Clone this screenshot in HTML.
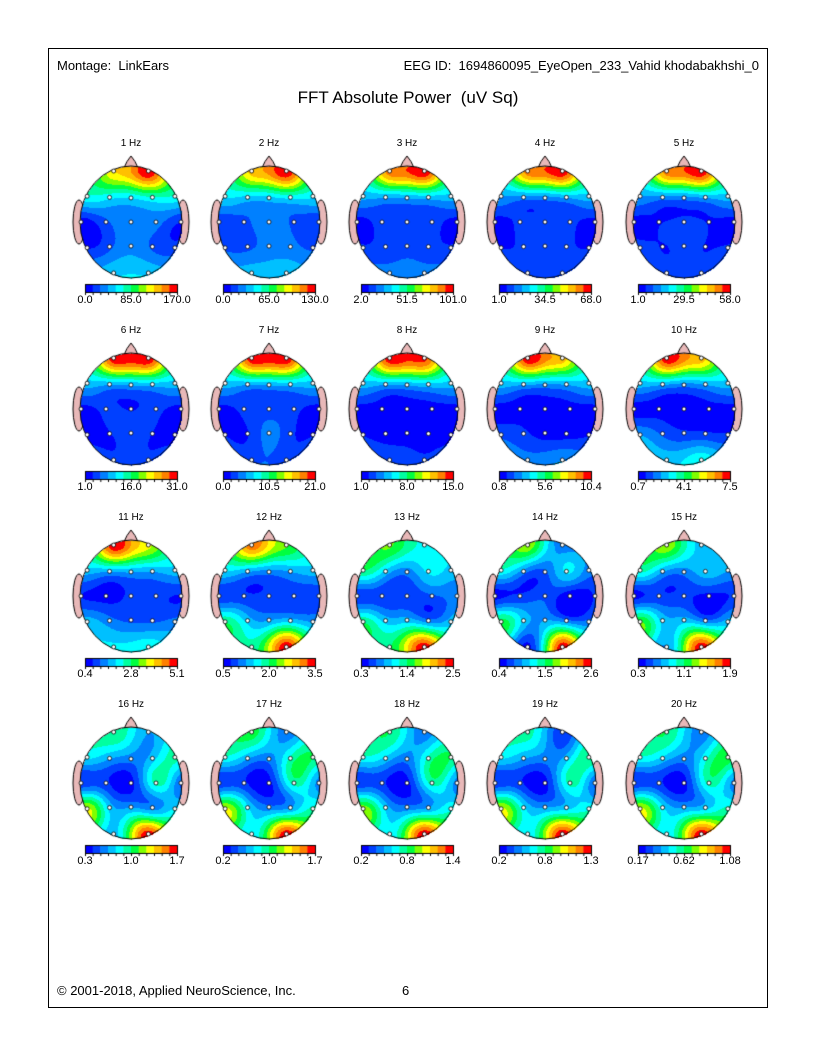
<!DOCTYPE html>
<html><head><meta charset="utf-8">
<style>
body{margin:0;background:#fff;font-family:"Liberation Sans",Arial,sans-serif;}
#page{position:relative;width:816px;height:1056px;overflow:hidden;}
#frame{position:absolute;left:48px;top:48px;width:718px;height:958px;border:1px solid #000;}
.t{position:absolute;color:#000;white-space:pre;}
canvas{position:absolute;left:0;top:0;}
</style></head><body>
<div id="page">
<div id="frame"></div>
<div class="t" style="left:57px;top:58px;font-size:13px;">Montage:  LinkEars</div>
<div class="t" style="right:57px;top:58px;font-size:13px;">EEG ID:  1694860095_EyeOpen_233_Vahid khodabakhshi_0</div>
<div class="t" style="left:0;width:816px;text-align:center;top:88px;font-size:17px;">FFT Absolute Power  (uV Sq)</div>
<div class="t" style="left:57px;top:983px;font-size:13px;">© 2001-2018, Applied NeuroScience, Inc.</div>
<div class="t" style="left:402px;top:983px;font-size:13px;">6</div>
<canvas id="cv" width="816" height="1056"></canvas>
</div>
<script>
const freqLabels=["1 Hz","2 Hz","3 Hz","4 Hz","5 Hz","6 Hz","7 Hz","8 Hz","9 Hz","10 Hz","11 Hz","12 Hz","13 Hz","14 Hz","15 Hz","16 Hz","17 Hz","18 Hz","19 Hz","20 Hz"];
const scaleMin=["0.0","0.0","2.0","1.0","1.0","1.0","0.0","1.0","0.8","0.7","0.4","0.5","0.3","0.4","0.3","0.3","0.2","0.2","0.2","0.17"];
const scaleMid=["85.0","65.0","51.5","34.5","29.5","16.0","10.5","8.0","5.6","4.1","2.8","2.0","1.4","1.5","1.1","1.0","1.0","0.8","0.8","0.62"];
const scaleMax=["170.0","130.0","101.0","68.0","58.0","31.0","21.0","15.0","10.4","7.5","5.1","3.5","2.5","2.6","1.9","1.7","1.7","1.4","1.3","1.08"];
const electrodes=["Fp1","Fp2","F7","F3","Fz","F4","F8","T3","C3","Cz","C4","T4","T5","P3","Pz","P4","T6","O1","O2"];
// normalized power (0..1 of scale) per electrode, order as electrodes
const v1=[.75,1,.4,.35,.33,.4,.4,.03,.15,.22,.2,.08,.08,.15,.22,.15,.12,.32,.32];
const v2=[.8,1,.35,.3,.3,.35,.35,.1,.15,.2,.15,.1,.15,.15,.2,.2,.15,.3,.3];
const v3=[.9,1,.28,.25,.25,.28,.3,.05,.12,.15,.12,.05,.1,.12,.15,.12,.1,.2,.2];
const v4=[.9,1,.25,.2,.2,.25,.3,.05,.1,.12,.1,.05,.08,.1,.12,.1,.08,.15,.15];
const v5=[.9,1,.25,.2,.2,.25,.3,.05,.08,.1,.08,.05,.12,.08,.1,.08,.1,.12,.12];
const v6=[1,1,.3,.25,.25,.28,.3,.05,.1,.08,.1,.05,.05,.08,.1,.08,.05,.1,.1];
const v7=[1,1,.3,.25,.25,.28,.3,.05,.1,.12,.1,.05,.08,.08,.2,.1,.08,.15,.12];
const v8=[1,.95,.3,.25,.25,.3,.3,.05,.05,.05,.05,.05,.08,.05,.05,.05,.05,.15,.1];
const v9=[1,.8,.3,.25,.22,.25,.3,.05,.05,.05,.05,.05,.15,.1,.05,.05,.08,.2,.25];
const v10=[1,.8,.3,.25,.2,.25,.3,.05,.05,.05,.05,.05,.25,.15,.1,.1,.1,.3,.4];
const v11=[1,.7,.3,.25,.25,.25,.3,.08,.05,.1,.1,.08,.3,.2,.15,.15,.2,.35,.4];
const v12=[.9,.6,.35,.25,.2,.25,.3,.1,.1,.1,.1,.1,.5,.3,.25,.3,.25,.45,1];
const v13=[.6,.4,.5,.3,.2,.35,.3,.1,.1,.1,.15,.2,.5,.3,.3,.2,.3,.5,1];
const v14=[.65,.2,.4,.2,.15,.35,.2,.05,.1,.15,0,.1,.55,.3,.25,.2,.2,.05,1];
const v15=[.65,.3,.45,.25,.2,.3,.25,.05,.1,.1,.05,.1,.6,.3,.3,.2,.3,.25,1];
const v16=[.5,.25,.35,.25,.2,.3,.45,.1,.1,.05,.45,.15,.7,.3,.25,.2,.35,.3,1];
const v17=[.55,.2,.4,.25,.2,.45,.5,.1,.1,.05,.45,.2,.7,.35,.2,.25,.45,.35,1];
const v18=[.5,.2,.4,.3,.2,.45,.5,.1,.1,.05,.45,.2,.65,.3,.2,.25,.4,.35,1];
const v19=[.45,.1,.35,.25,.2,.3,.5,.1,.1,.05,.45,.15,.7,.35,.25,.3,.4,.35,1];
const v20=[.5,.2,.4,.3,.2,.4,.55,.1,.1,.05,.45,.2,.7,.35,.25,.3,.45,.35,1];
const maps=[v1,v2,v3,v4,v5,v6,v7,v8,v9,v10,v11,v12,v13,v14,v15,v16,v17,v18,v19,v20];

const palette=["#0000ff","#0040ff","#0080ff","#00c0ff","#00ffff","#00ffa0","#00ff40","#80ff00","#ffff00","#ffc000","#ff8000","#ff0000"];
const pos={Fp1:[-.34,-.91],Fp2:[.34,-.91],F7:[-.86,-.46],F3:[-.42,-.44],Fz:[0,-.43],F4:[.42,-.44],F8:[.86,-.46],T3:[-.98,0],C3:[-.49,0],Cz:[0,0],C4:[.49,0],T4:[.98,0],T5:[-.86,.46],P3:[-.42,.44],Pz:[0,.43],P4:[.42,.44],T6:[.86,.46],O1:[-.34,.91],O2:[.34,.91]};
const cv=document.getElementById('cv');const ctx=cv.getContext('2d');
const colX=[131,269,407,545,684],rowY=[222,409,596,783];
const RX=51,RY=56,S=0.18;
function hex(c){return [parseInt(c.substr(1,2),16),parseInt(c.substr(3,2),16),parseInt(c.substr(5,2),16)];}
const pal=palette.map(hex);
const P=electrodes.map(e=>pos[e]);
function kern(d2){return Math.exp(-d2/S);}
function solve(A,b){const n=b.length;A=A.map(r=>r.slice());b=b.slice();
  for(let i=0;i<n;i++){let p=i;for(let r=i+1;r<n;r++)if(Math.abs(A[r][i])>Math.abs(A[p][i]))p=r;
    [A[i],A[p]]=[A[p],A[i]];[b[i],b[p]]=[b[p],b[i]];
    for(let r=i+1;r<n;r++){const f=A[r][i]/A[i][i];for(let c=i;c<n;c++)A[r][c]-=f*A[i][c];b[r]-=f*b[i];}}
  const x=new Array(n).fill(0);for(let i=n-1;i>=0;i--){let s=b[i];for(let c=i+1;c<n;c++)s-=A[i][c]*x[c];x[i]=s/A[i][i];}return x;}
const K=P.map(a=>P.map(b=>kern((a[0]-b[0])**2+(a[1]-b[1])**2)+(a===b?0.02:0)));
const pageEl=document.getElementById('page');
function label(txt,x,y,size,name){
  const d=document.createElement('div');d.className='t';d.textContent=txt;
  
  
  d.style.fontSize=size+'px';d.style.top=y+'px';
  d.style.left=(x-40)+'px';d.style.width='80px';d.style.textAlign='center';
  pageEl.appendChild(d);
}
maps.forEach((vals,i)=>{
  const cx=colX[i%5],cy=rowY[Math.floor(i/5)];
  ctx.fillStyle='#e8b8b8';ctx.strokeStyle='#000';ctx.lineWidth=1;
  for(const s of [-1,1]){ctx.beginPath();ctx.ellipse(cx+s*(RX+1),cy,6,22,0,0,Math.PI*2);ctx.fill();ctx.stroke();}
  ctx.beginPath();ctx.moveTo(cx-8,cy-RY+4);ctx.quadraticCurveTo(cx-4,cy-RY-6,cx,cy-RY-10);ctx.quadraticCurveTo(cx+4,cy-RY-6,cx+8,cy-RY+4);ctx.closePath();ctx.fill();ctx.stroke();
  const mean=vals.reduce((a,b)=>a+b,0)/vals.length;
  const w=solve(K,vals.map(v=>v-mean));
  const img=ctx.getImageData(cx-RX,cy-RY,2*RX+1,2*RY+1);
  for(let py=0;py<=2*RY;py++)for(let px=0;px<=2*RX;px++){
    const nx=(px-RX)/RX,ny=(py-RY)/RY;if(nx*nx+ny*ny>1)continue;
    let v=mean;
    for(let k=0;k<P.length;k++){const dx=nx-P[k][0],dy=ny-P[k][1];v+=w[k]*kern(dx*dx+dy*dy);}
    const idx=Math.min(11,Math.max(0,Math.floor(v*11.99)));
    const c=pal[idx];const o=(py*(2*RX+1)+px)*4;
    img.data[o]=c[0];img.data[o+1]=c[1];img.data[o+2]=c[2];img.data[o+3]=255;
  }
  ctx.putImageData(img,cx-RX,cy-RY);
  ctx.beginPath();ctx.ellipse(cx,cy,RX,RY,0,0,Math.PI*2);ctx.strokeStyle='#000';ctx.stroke();
  electrodes.forEach(e=>{ctx.beginPath();ctx.arc(cx+pos[e][0]*RX,cy+pos[e][1]*RY,2,0,Math.PI*2);ctx.fillStyle='#fff';ctx.fill();ctx.strokeStyle='#000';ctx.lineWidth=0.8;ctx.stroke();});
  ctx.lineWidth=1;
  const bx=cx-46,by=cy+62,bw=92,bh=8;
  palette.forEach((c,k)=>{ctx.fillStyle=c;ctx.fillRect(bx+k*bw/12,by,bw/12+0.5,bh);});
  ctx.strokeStyle='#000';ctx.strokeRect(bx+0.5,by+0.5,bw,bh);
  for(let k=0;k<=12;k++){ctx.beginPath();ctx.moveTo(bx+0.5+k*bw/12,by+bh);ctx.lineTo(bx+0.5+k*bw/12,by+bh+3);ctx.stroke();}
  label(freqLabels[i],cx,cy-84,10,'map-title-'+(i+1));
  label(scaleMin[i],bx,by+10,11,'scale-min-'+(i+1));
  label(scaleMid[i],cx,by+10,11,'scale-mid-'+(i+1));
  label(scaleMax[i],bx+bw,by+10,11,'scale-max-'+(i+1));
});
</script>
</body></html>
